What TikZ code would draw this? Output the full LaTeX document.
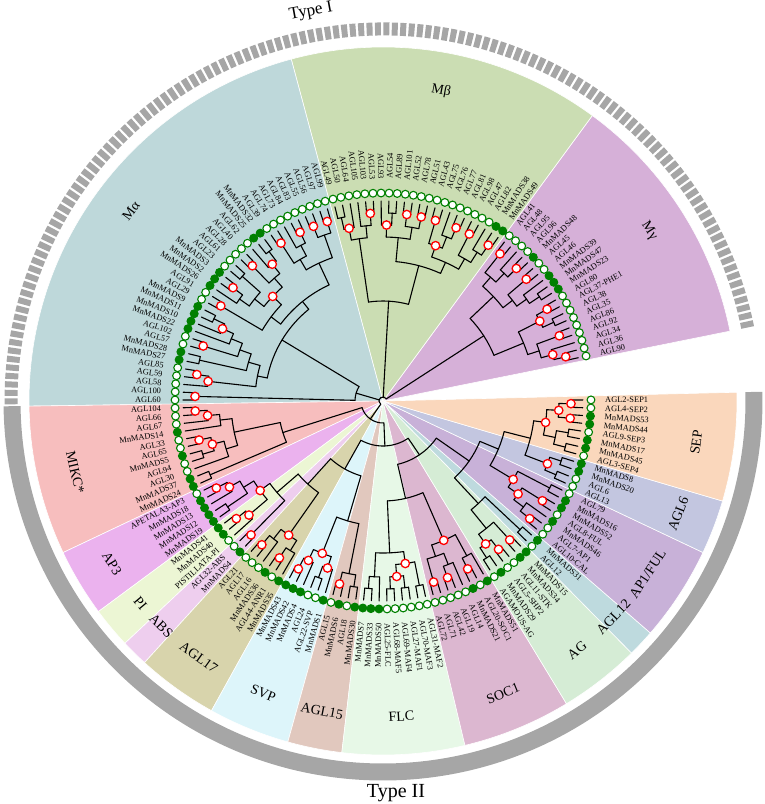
\documentclass[tikz,border=0pt]{standalone}
\usepackage{fontspec}
\setmainfont{Liberation Serif}
\definecolor{dgreen}{RGB}{0,128,0}
\definecolor{ringc}{RGB}{166,166,166}
\definecolor{cMa}{HTML}{BED8DA}
\definecolor{cMb}{HTML}{CBDDB3}
\definecolor{cMg}{HTML}{D6B0D8}
\definecolor{cMIKC}{HTML}{F7BEBE}
\definecolor{cAP3}{HTML}{EBB2EE}
\definecolor{cPI}{HTML}{ECF6D4}
\definecolor{cABS}{HTML}{EECEEE}
\definecolor{cAGLa}{HTML}{D8D4AC}
\definecolor{cSVP}{HTML}{DDF5FA}
\definecolor{cAGLb}{HTML}{E1C8BE}
\definecolor{cFLC}{HTML}{E7F8E7}
\definecolor{cSOC}{HTML}{DCB7D0}
\definecolor{cAG}{HTML}{D5ECD5}
\definecolor{cAGLc}{HTML}{BEDADE}
\definecolor{cAPF}{HTML}{C8B1D8}
\definecolor{cAGLd}{HTML}{C3C6E0}
\definecolor{cSEP}{HTML}{FAD7BC}
\tikzset{
  branch/.style={line width=1.1pt, black, line cap=round},
  bsmark/.style={draw=red, fill=white, line width=1.3pt},
  leafdot/.style={draw=dgreen, line width=1.1pt},
  leaflab/.style={font=\fontsize{8.4}{9}\selectfont, inner sep=0pt},
  cladelab/.style={font=\fontsize{14}{16}\selectfont, inner sep=0pt},
}
\newcommand\mtRadial[3]{\draw[branch] (#1:#2pt) -- (#1:#3pt);}
\newcommand\mtArc[3]{\draw[branch] (#1:#3pt) arc[start angle=#1, end angle=#2, radius=#3pt];}
\newcommand\mtMark[2]{\path[bsmark] (#1:#2pt) circle[radius=4.2pt];}
\newcommand\mtWarn[1]{\node[red, font=\Huge] at (0,0) {#1};}
\newif\ifmtlab
\newcommand\mtWedge[4]{%
  \pgfmathsetmacro\wsa{12.5+2.2295*#1-1.11475}%
  \pgfmathsetmacro\wea{12.5+2.2295*#2+1.11475}%
  \pgfmathsetmacro\wma{(\wsa+\wea)/2}%
  \pgfmathsetmacro\wrot{\wma<180 ? \wma-90 : \wma+90}%
  \ifmtlab
    \node[cladelab, rotate=\wrot] at (\wma:316pt) {#4};
  \else
    \filldraw[fill=#3, draw=white, line width=0.6pt] (0,0) -- (\wsa:354pt) arc[start angle=\wsa, end angle=\wea, radius=354pt] -- cycle;
  \fi
}
\newcommand\mtAllWedges{%
\mtWedge{0}{18}{cMg}{Mγ}
\mtWedge{19}{41}{cMb}{Mβ}
\mtWedge{42}{75}{cMa}{Mα}
\mtWedge{76}{86}{cMIKC}{MIKC*}
\mtWedge{87}{91}{cAP3}{AP3}
\mtWedge{92}{94}{cPI}{PI}
\mtWedge{95}{96}{cABS}{ABS}
\mtWedge{97}{102}{cAGLa}{AGL17}
\mtWedge{103}{108}{cSVP}{SVP}
\mtWedge{109}{112}{cAGLb}{AGL15}
\mtWedge{113}{121}{cFLC}{FLC}
\mtWedge{122}{129}{cSOC}{SOC1}
\mtWedge{130}{135}{cAG}{AG}
\mtWedge{136}{137}{cAGLc}{AGL12}
\mtWedge{138}{144}{cAPF}{AP1/FUL}
\mtWedge{145}{148}{cAGLd}{AGL6}
\mtWedge{149}{156}{cSEP}{SEP}
}
\ExplSyntaxOn
\seq_new:N \g_mt_pos_seq
\seq_new:N \g_mt_rad_seq
\seq_new:N \l_mt_p_seq
\seq_new:N \l_mt_r_seq
\int_new:N \g_mt_leaf_int
\tl_new:N \g_mt_marks_tl
\tl_new:N \l_mt_item_tl
\tl_new:N \l_mt_pa_tl
\tl_new:N \l_mt_pb_tl
\tl_new:N \l_mt_a_tl
\tl_new:N \l_mt_b_tl
\fp_new:N \l_mt_minr_fp
\fp_new:N \l_mt_r_fp
\fp_new:N \l_mt_mid_fp
\cs_new:Npn \mt_ang:n #1 { \fp_eval:n { 12.5 + 2.2295 * ( #1 ) } }
\cs_new_protected:Npn \mt_leaf:
  {
    \seq_gpush:Nx \g_mt_pos_seq { \int_use:N \g_mt_leaf_int }
    \seq_gpush:Nn \g_mt_rad_seq { 200 }
    \int_gincr:N \g_mt_leaf_int
  }
\cs_new_protected:Npn \mt_node:nnn #1#2#3
  {
    \seq_clear:N \l_mt_p_seq
    \seq_clear:N \l_mt_r_seq
    \prg_replicate:nn {#1}
      {
        \seq_gpop:NN \g_mt_pos_seq \l_mt_item_tl
        \seq_put_left:NV \l_mt_p_seq \l_mt_item_tl
        \seq_gpop:NN \g_mt_rad_seq \l_mt_item_tl
        \seq_put_left:NV \l_mt_r_seq \l_mt_item_tl
      }
    \fp_set:Nn \l_mt_minr_fp { 1000 }
    \seq_map_inline:Nn \l_mt_r_seq
      { \fp_set:Nn \l_mt_minr_fp { min( \l_mt_minr_fp , ##1 ) } }
    \tl_if_blank:nTF {#2}
      { \fp_set:Nn \l_mt_r_fp { \l_mt_minr_fp - 12 } }
      { \fp_set:Nn \l_mt_r_fp {#2} }
    \tl_set:Nx \l_mt_pa_tl { \seq_item:Nn \l_mt_p_seq { 1 } }
    \tl_set:Nx \l_mt_pb_tl { \seq_item:Nn \l_mt_p_seq { -1 } }
    \fp_set:Nn \l_mt_mid_fp { ( \l_mt_pa_tl + \l_mt_pb_tl ) / 2 }
    \int_step_inline:nn {#1}
      {
        \tl_set:Nx \l_mt_a_tl { \seq_item:Nn \l_mt_p_seq {##1} }
        \tl_set:Nx \l_mt_b_tl { \seq_item:Nn \l_mt_r_seq {##1} }
        \use:x
          {
            \exp_not:N \mtRadial
              { \mt_ang:n { \l_mt_a_tl } }
              { \l_mt_b_tl }
              { \fp_use:N \l_mt_r_fp }
          }
      }
    \use:x
      {
        \exp_not:N \mtArc
          { \mt_ang:n { \l_mt_pa_tl } }
          { \mt_ang:n { \l_mt_pb_tl } }
          { \fp_use:N \l_mt_r_fp }
      }
    \int_compare:nNnT {#3} = {1}
      {
        \tl_gput_right:Nx \g_mt_marks_tl
          { \exp_not:N \mtMark { \mt_ang:n { \fp_use:N \l_mt_mid_fp } } { \fp_use:N \l_mt_r_fp } }
      }
    \seq_gpush:Nx \g_mt_pos_seq { \fp_use:N \l_mt_mid_fp }
    \seq_gpush:Nx \g_mt_rad_seq { \fp_use:N \l_mt_r_fp }
  }
\cs_new_protected:Npn \tLf { \mt_leaf: }
\cs_new_protected:Npn \tNd #1 { \mt_node:nnn {#1} {} {0} }
\cs_new_protected:Npn \tNm #1 { \mt_node:nnn {#1} {} {1} }
\cs_new_protected:Npn \tNr #1#2 { \mt_node:nnn {#1} {#2} {0} }
\cs_new_protected:Npn \tMarks { \tl_use:N \g_mt_marks_tl }
\cs_new_protected:Npn \tCheck
  {
    \int_compare:nNnF { \g_mt_leaf_int } = { 157 }
      { \mtWarn { leaves~\int_use:N \g_mt_leaf_int } }
    \int_compare:nNnF { \seq_count:N \g_mt_pos_seq } = { 1 }
      { \mtWarn { stack~\seq_count:N \g_mt_pos_seq } }
  }
\ExplSyntaxOff
\begin{document}
\begin{tikzpicture}[x=1pt,y=1pt]
\useasboundingbox (-383,-403) rectangle (381,401);
% wedges (fills first, labels afterwards)
\mtlabfalse
\mtAllWedges
% rings
\draw[ringc, line width=13pt, dash pattern=on 6pt off 2.4pt] (11.4:372pt) arc[start angle=11.4, end angle=180.8, radius=372pt];
\draw[ringc, line width=17pt] (180.8:371pt) arc[start angle=180.8, end angle=361.4, radius=371pt];
\node[font=\fontsize{17}{20}\selectfont, rotate=10.5] (t1) at (-72,389) {Type I};
\node[font=\fontsize{20}{23}\selectfont] (t2) at (13,-392) {Type II};
\mtlabtrue
\mtAllWedges
% ---------- tree ----------
% M gamma
\tLf \tLf \tNm2 \tLf \tNm2 \tLf \tLf \tNm2 \tNd2
\tLf \tLf \tNd2 \tLf \tLf \tNm2 \tNm2
\tNd2
\tLf \tLf \tNd2 \tLf \tNd2 \tLf \tLf \tNm2 \tNd2
\tLf \tLf \tNm2 \tLf \tNd2 \tLf \tLf \tNm2 \tNd2
\tNd2
\tNr2{120}
% M beta
\tLf \tLf \tNm2 \tLf \tNd2 \tLf \tLf \tNm2 \tNd2
\tLf \tLf \tNm2 \tLf \tNd2 \tLf \tLf \tNm2 \tNm2
\tNd2
\tLf \tLf \tNm2 \tLf \tLf \tNm2 \tNd2
\tLf \tLf \tNd2 \tLf \tNm2
\tNd2
\tNd2
\tLf \tLf \tNm2 \tLf \tNd2
\tLf \tLf \tLf \tNd2 \tNm2
\tNd2
\tNr2{100}
% M alpha
\tLf \tLf \tNm2 \tLf \tLf \tNm2 \tNd2
\tLf \tLf \tNm2 \tLf \tNd2 \tLf \tLf \tNm2 \tNd2
\tNd2
\tLf \tLf \tNd2 \tLf \tNm2 \tLf \tLf \tNm2 \tNd2
\tLf \tLf \tNd2 \tLf \tLf \tNm2 \tLf \tNd2 \tNd2
\tNm2
\tLf \tLf \tNm2
\tNd2
\tNd2
\tLf \tLf \tNd2 \tLf \tNm2 \tLf \tNd2
\tLf \tLf \tNm2
\tNd2
\tLf \tLf \tNd2
\tNd2
\tLf \tLf \tNm2 \tLf \tNm2
\tNd2
\tNr2{118}
\tLf \tLf \tNm2
\tNr2{28}
% MIKC*
\tLf \tLf \tNm2 \tLf \tNm2 \tLf \tNd2
\tLf \tLf \tNm2 \tLf \tLf \tNd2 \tNm2 \tLf \tNd2
\tNd2
\tLf \tLf \tNd2
\tNr2{105}
% AP3, PI, ABS, AGL17
\tLf \tLf \tNm2 \tLf \tNm2 \tLf \tLf \tNd2 \tNd2
\tLf \tLf \tNm2 \tLf \tNm2
\tNm2
\tLf \tLf \tNm2
\tNd2
\tLf \tLf \tNm2 \tLf \tNd2 \tLf \tLf \tNm2 \tLf \tNd2 \tNm2
\tNr2{112}
% SVP, AGL15
\tLf \tLf \tNm2 \tLf \tNm2 \tLf \tLf \tNd2 \tLf \tNm2 \tNm2
\tLf \tLf \tNm2 \tLf \tLf \tNd2 \tNd2
\tNr2{125}
\tNr2{78}
% FLC, SOC1
\tLf \tLf \tNd2 \tLf \tNd2
\tLf \tLf \tNd2 \tLf \tLf \tNd2 \tNm2 \tLf \tLf \tNd2 \tNm2
\tNd2
\tLf \tLf \tNm2 \tLf \tLf \tNm2 \tLf \tNd2 \tNd2
\tLf \tLf \tNm2 \tLf \tNd2
\tNm2
\tNr2{100}
% AG, AGL12
\tLf \tLf \tNd2 \tLf \tLf \tNm2 \tNm2 \tLf \tLf \tNm2 \tNd2
\tLf \tLf \tNd2
\tNr2{140}
% AP1/FUL, AGL6, SEP
\tLf \tLf \tNm2 \tLf \tNd2 \tLf \tLf \tNm2 \tNm2 \tLf \tLf \tNd2 \tNm2
\tLf \tLf \tNd2 \tLf \tLf \tNd2 \tNm2
\tLf \tLf \tNd2 \tLf \tLf \tNd2 \tNd2
\tLf \tLf \tNm2 \tLf \tLf \tNm2 \tNm2
\tNm2
\tNd2
\tNr2{125}
\tNr2{105}
\tNr2{65}
\tNr2{45}
\tNr2{22}
% root
\tNr4{4}
\tMarks
\tCheck
% ---------- leaves ----------
\foreach \nm/\f [count=\i from 0] in {AGL90/0, AGL36/0, AGL34/0, AGL92/0, AGL86/0, AGL35/0, AGL38/0, AGL37-PHE1/0, AGL80/0, MnMADS23/1, MnMADS47/1, MnMADS39/1, AGL46/0, AGL45/0, MnMADS48/1, AGL96/0, AGL95/0, AGL48/0, AGL41/0, MnMADS49/1, MnMADS38/1, AGL82/0, AGL47/0, AGL98/0, AGL81/0, AGL77/0, AGL76/0, AGL75/0, AGL43/0, AGL51/0, AGL78/0, AGL52/0, AGL101/0, AGL89/0, AGL54/0, AGL93/0, AGL53/0, AGL103/0, AGL105/0, AGL64/0, AGL50/0, AGL49/0, AGL99/0, AGL97/0, AGL56/0, AGL55/0, AGL83/0, AGL84/0, AGL73/0, AGL74/0, AGL39/0, MnMADS32/1, MnMADS25/1, AGL62/0, AGL40/0, AGL28/0, AGL61/0, AGL23/0, MnMADS3/1, MnMADS2/1, MnMADS26/1, AGL91/0, AGL29/0, MnMADS9/1, MnMADS11/1, MnMADS10/1, MnMADS22/1, AGL102/0, AGL57/0, MnMADS28/1, MnMADS27/1, AGL85/0, AGL59/0, AGL58/0, AGL100/0, AGL60/0, AGL104/0, AGL66/0, AGL67/0, MnMADS14/1, AGL33/0, AGL65/0, MnMADS5/1, AGL94/0, AGL30/0, MnMADS37/1, MnMADS24/1, APETALA3-AP3/0, MnMADS18/1, MnMADS13/1, MnMADS12/1, MnMADS19/1, MnMADS41/1, MnMADS40/1, PISTILLATA-PI/0, AGL32-ABS/0, MnMADS4/1, AGL21/0, AGL17/0, AGL16/0, MnMADS36/1, AGL44-ANR1/0, MnMADS35/1, MnMADS43/1, MnMADS42/1, MnMADS4/1, AGL24/0, AGL22-SVP/0, MnMADS1/1, AGL15/0, MnMADS6/1, AGL18/0, MnMADS30/1, MnMADS7/1, MnMADS33/1, MnMADS50/1, AGL25-FLC/0, AGL68-MAF5/0, AGL69-MAF4/0, AGL27-MAF1/0, AGL70-MAF3/0, AGL31-MAF2/0, AGL72/0, AGL71/0, AGL42/0, AGL19/0, AGL14/0, MnMADS21/1, AGL20-SOC1/0, MnMADS51/1, AGAMOUS-AG/0, MnMADS29/1, AGL5-SHP2/0, AGL11-STK/0, MnMADS34/1, MnMADS15/1, AGL12/0, MnMADS31/1, AGL10-CAL/0, AGL7-AP1/0, MnMADS46/1, AGL8-FUL/0, MnMADS52/1, MnMADS16/1, AGL79/0, AGL13/0, AGL6/0, MnMADS20/1, MnMADS8/1, AGL3-SEP4/0, MnMADS45/1, MnMADS17/1, AGL9-SEP3/0, MnMADS44/1, MnMADS53/1, AGL4-SEP2/0, AGL2-SEP1/0}{
  \pgfmathsetmacro\la{12.5+2.2295*\i}
  \pgfmathtruncatemacro\flip{(\la>90)&&(\la<270)}
  \ifnum\f=1
    \path[leafdot, fill=dgreen] (\la:208pt) circle[radius=3.9pt];
  \else
    \path[leafdot, fill=white] (\la:208pt) circle[radius=3.9pt];
  \fi
  \ifnum\flip=1
    \pgfmathsetmacro\lr{\la+180}
    \node[leaflab, rotate=\lr, anchor=east] (leaf\i) at (\la:222pt) {\nm};
  \else
    \node[leaflab, rotate=\la, anchor=west] (leaf\i) at (\la:222pt) {\nm};
  \fi
}
\end{tikzpicture}
\end{document}
